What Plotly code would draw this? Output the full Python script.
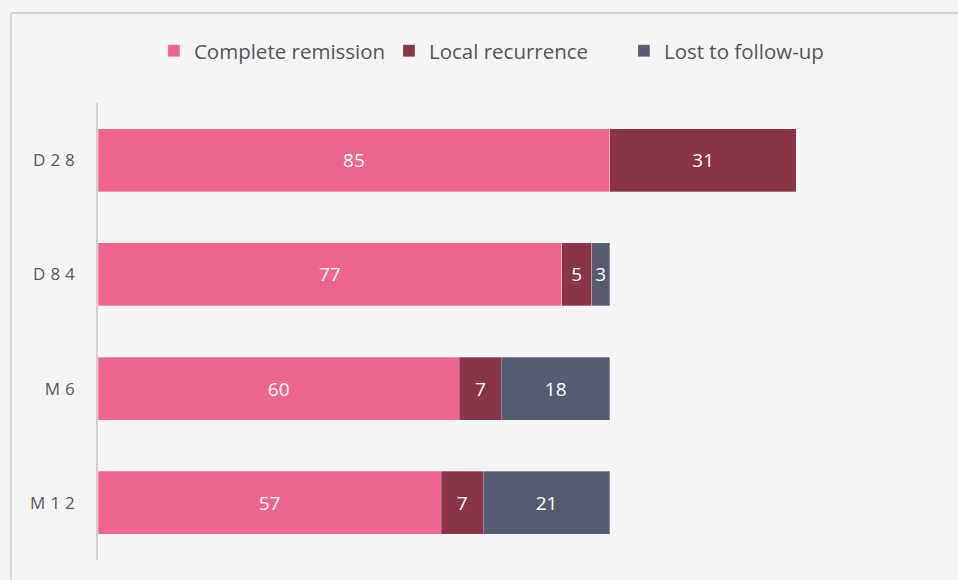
import plotly.graph_objects as go

categories = ["D28", "D84", "M6", "M12"]
series_names = ["Complete remission", "Local recurrence", "Lost to follow-up"]
complete_remission = [85, 77, 60, 57]
local_recurrence = [31, 5, 7, 7]
lost_to_follow_up = [0, 3, 18, 21]
colors = ["#EE6590", "#8A3447", "#555C6F"]

values = [complete_remission, local_recurrence, lost_to_follow_up]

fig = go.Figure()
for name, vals, col in zip(series_names, values, colors):
    fig.add_trace(go.Bar(
        y=categories, x=vals, name=name, orientation="h",
        marker=dict(color=col, line=dict(color="rgba(255,255,255,0.35)", width=0.8)),
        text=[str(v) if v else "" for v in vals],
        textposition="inside", insidetextanchor="middle",
        textfont=dict(color="white", size=19, family="Open Sans"),
        constraintext="none",
    ))

W, H = 958, 580
L, R, T, B = 98, 17, 103, 20
fig.update_layout(
    width=W, height=H,
    barmode="stack", bargap=0.45,
    margin=dict(l=L, r=R, t=T, b=B),
    paper_bgcolor="#f5f5f5", plot_bgcolor="rgba(0,0,0,0)",
    font=dict(family="Open Sans", color="#595959"),
    legend=dict(
        orientation="h", x=0.4845, xanchor="center", y=1.114, yanchor="middle",
        font=dict(size=20.5, color="#555555", family="Open Sans"),
        itemwidth=30, traceorder="normal", entrywidth=190,
        bgcolor="rgba(0,0,0,0)",
    ),
    xaxis=dict(range=[0, 140], visible=False, fixedrange=True),
    yaxis=dict(
        categoryorder="array", categoryarray=categories[::-1],
        showline=True, linecolor="#d0d0d0", linewidth=1.5,
        showgrid=False, ticks="", ticklabelstandoff=13,
        tickfont=dict(size=17, color="#595959", family="Open Sans"),
    ),
    showlegend=True,
)
# frame line like the reference border
fy = 1 + (T - 13) / (H - T - B)
fx = (11 - L) / (W - L - R)
fig.add_shape(type="line", xref="paper", yref="paper",
              x0=fx, x1=1.05, y0=fy, y1=fy,
              line=dict(color="#d6d6d6", width=2))
fig.add_shape(type="line", xref="paper", yref="paper",
              x0=fx, x1=fx, y0=-0.1, y1=fy,
              line=dict(color="#d6d6d6", width=2))

post = """
document.body.style.margin = '0';
document.body.style.overflow = 'hidden';
document.querySelectorAll('.ytick text').forEach(function(t){ t.style.letterSpacing = '5px'; });
"""
fig.write_html("out.html", post_script=post, config={"displayModeBar": False})
